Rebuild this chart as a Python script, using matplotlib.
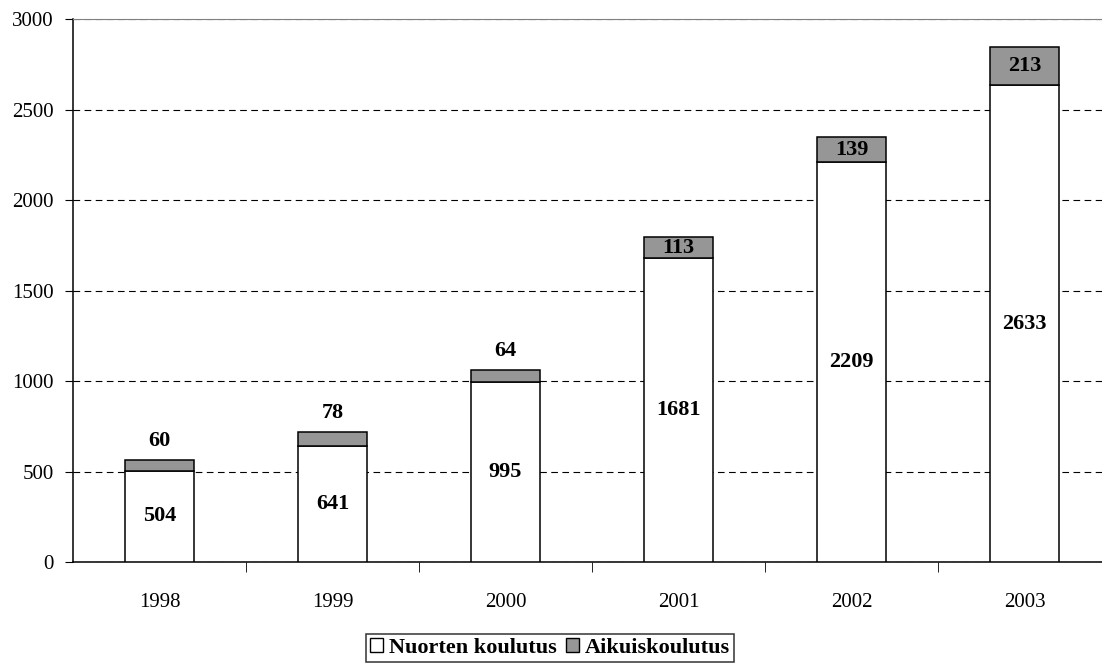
import matplotlib
matplotlib.use('Agg')
import matplotlib.pyplot as plt
from matplotlib.patches import Patch

years = ['1998', '1999', '2000', '2001', '2002', '2003']
nuorten = [504, 641, 995, 1681, 2209, 2633]
aikuis = [60, 78, 64, 113, 139, 213]

plt.rcParams['font.family'] = ['Liberation Serif', 'DejaVu Serif']

fig = plt.figure(figsize=(11.02, 6.67), dpi=100)
# plot area runs past the right edge of the picture, like the original
ax = fig.add_axes([0.0662, 0.1574, 0.942, 0.8141])

x = list(range(len(years)))
w = 0.4
ax.bar(x, nuorten, width=w, color='white', edgecolor='black', linewidth=1.1, zorder=3)
ax.bar(x, aikuis, width=w, bottom=nuorten, color='#969696', edgecolor='black', linewidth=1.1, zorder=3)

for i in x:
    ax.text(i, nuorten[i] / 2, str(nuorten[i]), ha='center', va='center',
            fontsize=16, fontweight='bold', zorder=4)
    top = nuorten[i] + aikuis[i]
    if aikuis[i] < 100:
        ax.text(i, top + 105, str(aikuis[i]), ha='center', va='center',
                fontsize=16, fontweight='bold', zorder=4)
    else:
        ax.text(i, nuorten[i] + aikuis[i] / 2, str(aikuis[i]), ha='center', va='center',
                fontsize=16, fontweight='bold', zorder=4)

ax.set_xlim(-0.5, len(years) - 0.5)
ax.set_ylim(0, 3000)
ax.set_yticks(range(0, 3001, 500))
ax.tick_params(axis='y', labelsize=15, length=6, direction='out', pad=8)

ax.set_xticks(x)
ax.set_xticklabels(years, fontsize=15)
ax.tick_params(axis='x', length=0, pad=22)
ax.set_xticks([i + 0.5 for i in range(len(years) - 1)], minor=True)
ax.tick_params(axis='x', which='minor', length=7, direction='out')

ax.yaxis.grid(True, linestyle=(0, (6, 4)), color='black', linewidth=0.8, zorder=0)
ax.spines['right'].set_visible(False)
ax.spines['top'].set_color('#808080')
ax.spines['left'].set_linewidth(1.1)
ax.spines['bottom'].set_linewidth(1.1)

handles = [Patch(facecolor='white', edgecolor='black', label='Nuorten koulutus'),
           Patch(facecolor='#969696', edgecolor='black', label='Aikuiskoulutus')]
leg = fig.legend(handles=handles, loc='center', bbox_to_anchor=(0.499, 0.0285), ncol=2,
                 frameon=True, fancybox=False, edgecolor='black',
                 prop={'weight': 'bold', 'size': 16}, handlelength=0.6, handleheight=0.6,
                 handletextpad=0.25, columnspacing=0.4, borderpad=0.2, borderaxespad=0)
leg.get_frame().set_linewidth(1.1)

fig.savefig('out.png', dpi=100)
